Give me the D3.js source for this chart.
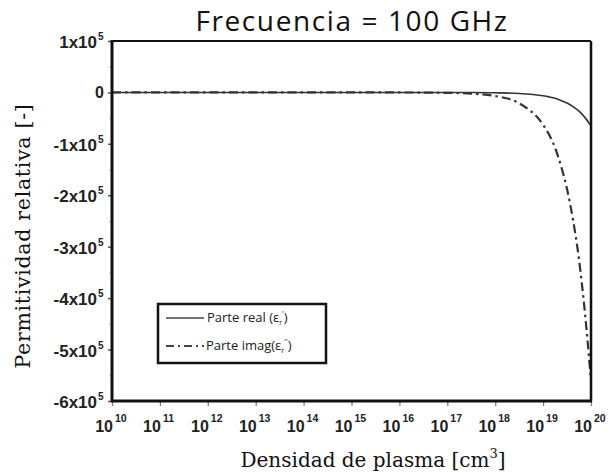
<!DOCTYPE html>
<html><head><meta charset="utf-8">
<script src="https://cdn.jsdelivr.net/npm/d3@7"></script>
<style>body{margin:0;background:#fff}svg{display:block}</style>
</head><body><svg id="c" width="611" height="476"></svg>
<script>
const density = [1e10,1e11,1e12,1e13,1e14,1e15,1e16,1e17,3.16e17,1e18,3.16e18,1e19,1.33e19,1.78e19,2.37e19,3.16e19,4.22e19,5.62e19,7.5e19,1e20];
const realPart = [0,0,0,0,0,0,-7,-70,-200,-650,-2000,-6500,-8700,-11500,-15500,-20500,-27500,-36500,-49000,-65000];
const imagPart = [0,0,0,0,0,-8,-80,-800,-2400,-7000,-21000,-63000,-82000,-108000,-143000,-188000,-248000,-325000,-430000,-560000];
const xTickExp = [10,11,12,13,14,15,16,17,18,19,20];
const yTicks = [1e5,0,-1e5,-2e5,-3e5,-4e5,-5e5,-6e5];
const yTickMant = ["1","0","-1","-2","-3","-4","-5","-6"];
const yMinor = [5e4,-5e4,-1.5e5,-2.5e5,-3.5e5,-4.5e5,-5.5e5];
const titleText = "Frecuencia = 100 GHz";
const legendNames = ["Parte real", "Parte imag"];

const svg = d3.select("#c");
const L=112,R=591,T=41,B=401;
const x = d3.scaleLog().domain([1e10,1e20]).range([L,R]);
const y = d3.scaleLinear().domain([-6e5,1e5]).range([B,T]);

svg.append("text").attr("x",352).attr("y",31).attr("text-anchor","middle")
  .style("font-family","Open Sans").style("font-size","28px").style("letter-spacing","1.6px")
  .attr("fill","#111").text(titleText);

// y axis ticks
const yAx = svg.append("g").attr("transform",`translate(${L},0)`)
  .call(d3.axisLeft(y).tickValues(yTicks).tickSize(4).tickFormat(""));
yAx.select(".domain").remove();
yAx.selectAll("line").attr("stroke","#555").attr("stroke-width",1.5);
svg.append("g").attr("transform",`translate(${L},0)`)
  .call(d3.axisLeft(y).tickValues(yMinor).tickSize(3).tickFormat(""))
  .call(g=>{g.select(".domain").remove();g.selectAll("line").attr("stroke","#bbb");});
yTicks.forEach((v,i)=>{
  if (v===0) {
    svg.append("text").attr("x",104).attr("y",y(v)+6).attr("text-anchor","end")
      .style("font-family","Liberation Sans").style("font-weight","bold").style("font-size","16px").attr("fill","#222").text("0");
  } else {
    svg.append("text").attr("x",97).attr("y",y(v)+7).attr("text-anchor","end")
      .style("font-family","Liberation Sans").style("font-weight","bold").style("font-size","17px").attr("fill","#222")
      .text(yTickMant[i]+"x10");
    svg.append("text").attr("x",98).attr("y",y(v)-1).style("font-family","Liberation Sans")
      .style("font-weight","bold").style("font-size","10px").attr("fill","#222").text("5");
  }
});

// x axis ticks
const xAx = svg.append("g").attr("transform",`translate(0,${B})`)
  .call(d3.axisBottom(x).tickValues(xTickExp.map(e=>Math.pow(10,e))).tickSize(5).tickFormat(""));
xAx.select(".domain").remove();
xAx.selectAll("line").attr("stroke","#777").attr("stroke-width",1.2);
xTickExp.forEach(e=>{
  const px = x(Math.pow(10,e));
  svg.append("text").attr("x",px+1).attr("y",432).attr("text-anchor","end")
    .style("font-family","Liberation Sans").style("font-weight","bold").style("font-size","16px").attr("fill","#222").text("10");
  svg.append("text").attr("x",px+3).attr("y",422)
    .style("font-family","Liberation Sans").style("font-weight","bold").style("font-size","10.5px").attr("fill","#222").text(e);
});

// axis titles
const xt = svg.append("text").attr("x",373).attr("y",467).attr("text-anchor","middle")
  .style("font-family","DejaVu Serif").style("font-size","20px").attr("fill","#111");
xt.append("tspan").text("Densidad de plasma [cm");
xt.append("tspan").attr("dy",-9).style("font-size","13px").text("3");
xt.append("tspan").attr("dy",9).text("]");
svg.append("text").attr("transform","translate(30,236) rotate(-90)").attr("text-anchor","middle")
  .style("font-family","DejaVu Serif").style("font-size","20.5px").style("letter-spacing","0.7px")
  .attr("fill","#111").text("Permitividad relativa [-]");

// lines
const line = d3.line().x(d=>x(d[0])).y(d=>y(d[1])).curve(d3.curveMonotoneX);
svg.append("clipPath").attr("id","cp").append("rect").attr("x",L).attr("y",T).attr("width",R-L).attr("height",B-T);
svg.append("path").attr("clip-path","url(#cp)").datum(density.map((d,i)=>[d,realPart[i]])).attr("d",line)
  .attr("fill","none").attr("stroke","#333").attr("stroke-width",1.6);
svg.append("path").attr("clip-path","url(#cp)").datum(density.map((d,i)=>[d,imagPart[i]])).attr("d",line)
  .attr("fill","none").attr("stroke","#333").attr("stroke-width",2.2).attr("stroke-dasharray","9,4,2.5,4");

// frame
svg.append("line").attr("x1",L).attr("x2",R).attr("y1",T).attr("y2",T).attr("stroke","#111").attr("stroke-width",2);
svg.append("line").attr("x1",R).attr("x2",R).attr("y1",T).attr("y2",B).attr("stroke","#111").attr("stroke-width",2.5);
svg.append("line").attr("x1",L).attr("x2",L).attr("y1",T-1).attr("y2",B+1).attr("stroke","#111").attr("stroke-width",3);
svg.append("line").attr("x1",L-1).attr("x2",R+1).attr("y1",B).attr("y2",B).attr("stroke","#111").attr("stroke-width",3);

// legend
const lg = svg.append("g");
lg.append("rect").attr("x",158).attr("y",304).attr("width",168).attr("height",59)
  .attr("fill","#fff").attr("stroke","#111").attr("stroke-width",2.5);
const rows=[{y:318,dash:null},{y:346,dash:"8,4,2,4"}];
rows.forEach((r,i)=>{
  lg.append("line").attr("x1",166).attr("x2",204).attr("y1",r.y).attr("y2",r.y).attr("stroke","#444")
    .attr("stroke-width",i?2:1.5).attr("stroke-dasharray",r.dash);
  const t = lg.append("text").attr("x",i?206:207).attr("y",r.y+4).style("font-family","Open Sans")
    .style("font-size","13px").attr("fill","#222");
  t.append("tspan").text(legendNames[i] + (i?"(":" ("));
  t.append("tspan").text("ε");
  t.append("tspan").attr("dy",3).style("font-size","7px").text("r");
  t.append("tspan").attr("dy",-9).style("font-size","8px").text(i?"''":"'");
  t.append("tspan").attr("dy",6).text(")");
});
</script></body></html>
